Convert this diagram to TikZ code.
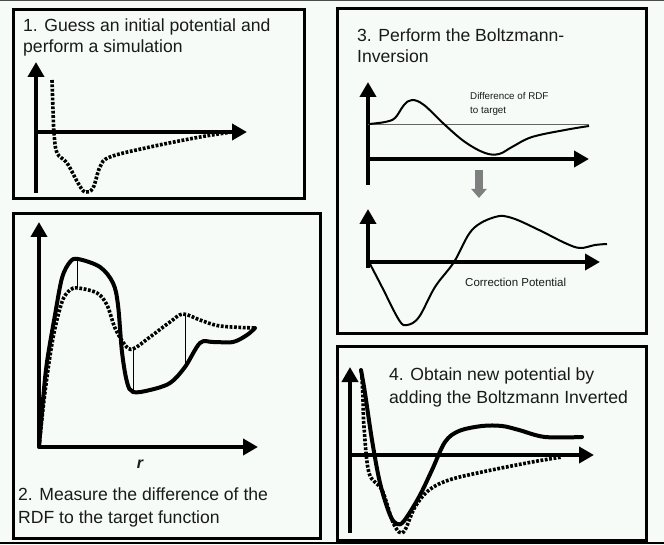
\documentclass[tikz,border=0pt]{standalone}
\usepackage{fontspec}
\setmainfont{Liberation Sans}
\usetikzlibrary{arrows.meta}
\definecolor{bgc}{HTML}{F6FBF8}
\definecolor{txtc}{HTML}{1A1A1A}
\definecolor{arrgray}{HTML}{7F7F7F}
\tikzset{
  panel/.style={draw=black, line width=3pt},
  axis/.style={line width=4pt, -{Triangle[length=15pt,width=16pt]}},
  solidcurve/.style={line width=4pt, line join=round, line cap=round},
  dotcurve/.style={line width=3.6pt, dash pattern=on 2.8pt off 1.6pt},
  thincurve/.style={line width=2pt, line join=round},
  titletext/.style={anchor=base west, inner sep=0pt, text=txtc, font=\fontsize{17.6}{21}\selectfont},
  smalltext/.style={anchor=base west, inner sep=0pt, text=txtc},
}
\begin{document}
\begin{tikzpicture}[x=1pt,y=-1pt]
\useasboundingbox (0,0) rectangle (664,545);
\fill[bgc] (0,0) rectangle (664,545);
\draw[line width=1.5pt, black!70] (0,0.75) -- (664,0.75);
\draw[line width=2pt, black] (0,543) -- (664,543);

% ---------- Panel 1 ----------
\draw[panel] (13,10) rectangle (304,199);
\node[titletext] (t1a) at (23,32) {1. Guess an initial potential and};
\node[titletext] (t1b) at (23,53) {perform a simulation};
\draw[axis] (36,193) -- (36,62);
\draw[axis] (36,132) -- (247,132);
\draw[dotcurve] plot[smooth, tension=0.6] coordinates {(52,80) (53,110) (54,133) (57,153) (67,163) (78,183) (85,192) (93,188) (100,167) (110,157) (150,147) (200,137) (232,132)};

% ---------- Panel 2 ----------
\draw[panel] (13,214) rectangle (320,538);
\draw[axis] (39,447) -- (39,222);
\draw[axis] (39,447) -- (258,447);
\draw[solidcurve] plot[smooth, tension=0.55] coordinates {(39,447) (43,400) (47,362) (55,315) (62,278) (70,262) (78,259) (100,267) (113,283) (118,305) (122,352) (127,382) (133,392) (150,390) (170,383) (185,367) (200,343) (213,342) (233,342) (247,335) (255,328)};
\draw[dotcurve] plot[smooth, tension=0.55] coordinates {(39,447) (45,392) (53,338) (62,302) (70,290) (78,288) (97,293) (107,305) (115,328) (125,345) (133,349) (150,337) (170,322) (183,314) (200,320) (220,326) (255,328)};
\draw[line width=1pt] (77,259) -- (77,288);
\draw[line width=1pt] (133,349) -- (133,392);
\draw[line width=1pt] (185,314) -- (185,367);
\node[anchor=center, inner sep=0pt, text=txtc, font=\fontsize{16}{18}\selectfont\bfseries\itshape] (rlab) at (140,464) {r};
\node[titletext] (t2a) at (18,500) {2. Measure the difference of the};
\node[titletext] (t2b) at (18,523) {RDF to the target function};

% ---------- Panel 3 ----------
\draw[panel] (337,9) rectangle (646,334);
\node[titletext] (t3a) at (357,42) {3. Perform the Boltzmann-};
\node[titletext] (t3b) at (357,63) {Inversion};
\draw[axis] (368,185) -- (368,82);
\draw[axis] (368,159) -- (589,159);
\draw[line width=0.8pt, black!60] (368,124) -- (589,124);
\draw[thincurve] plot[smooth, tension=0.6] coordinates {(369,124) (385,122) (395,118) (404,105) (412,100) (424,105) (445,125) (465,142) (485,153) (499,154) (512,147) (532,137) (565,130) (589,126)};
\node[smalltext, font=\fontsize{9.8}{12}\selectfont] (dlab1) at (470,100) {Difference of RDF};
\node[smalltext, font=\fontsize{9.8}{12}\selectfont] (dlab2) at (470,114) {to target};
\draw[arrgray, line width=8pt, -{Triangle[length=9pt,width=15pt]}] (479,170) -- (479,198);
\draw[axis] (368,268) -- (368,209);
\draw[axis] (368,262) -- (600,262);
\draw[thincurve] plot[smooth, tension=0.6] coordinates {(369,262) (382,287) (399,320) (407,325) (419,317) (435,287) (454,262) (472,230) (495,217) (512,218) (539,230) (565,243) (580,248) (595,245) (607,244)};
\node[smalltext, font=\fontsize{11.5}{14}\selectfont] (clab) at (465,287) {Correction Potential};

% ---------- Panel 4 ----------
\draw[panel] (337,346) rectangle (646,540);
\draw[axis] (350,533) -- (350,367);
\draw[axis] (350,455) -- (594,455);
\node[titletext] (t4a) at (389,380) {4. Obtain new potential by};
\node[titletext] (t4b) at (389,403) {adding the Boltzmann Inverted};
\draw[solidcurve] plot[smooth, tension=0.55] coordinates {(361,370) (365,393) (372,440) (380,483) (390,515) (397,524) (404,521) (419,497) (432,470) (445,442) (459,431) (482,426) (502,426) (519,430) (545,437) (582,437)};
\draw[dotcurve] plot[smooth, tension=0.55] coordinates {(362,377) (363,400) (364,427) (369,473) (382,490) (392,520) (399,532) (405,530) (415,507) (429,490) (449,480) (482,472) (532,462) (562,457)};
\end{tikzpicture}
\end{document}
